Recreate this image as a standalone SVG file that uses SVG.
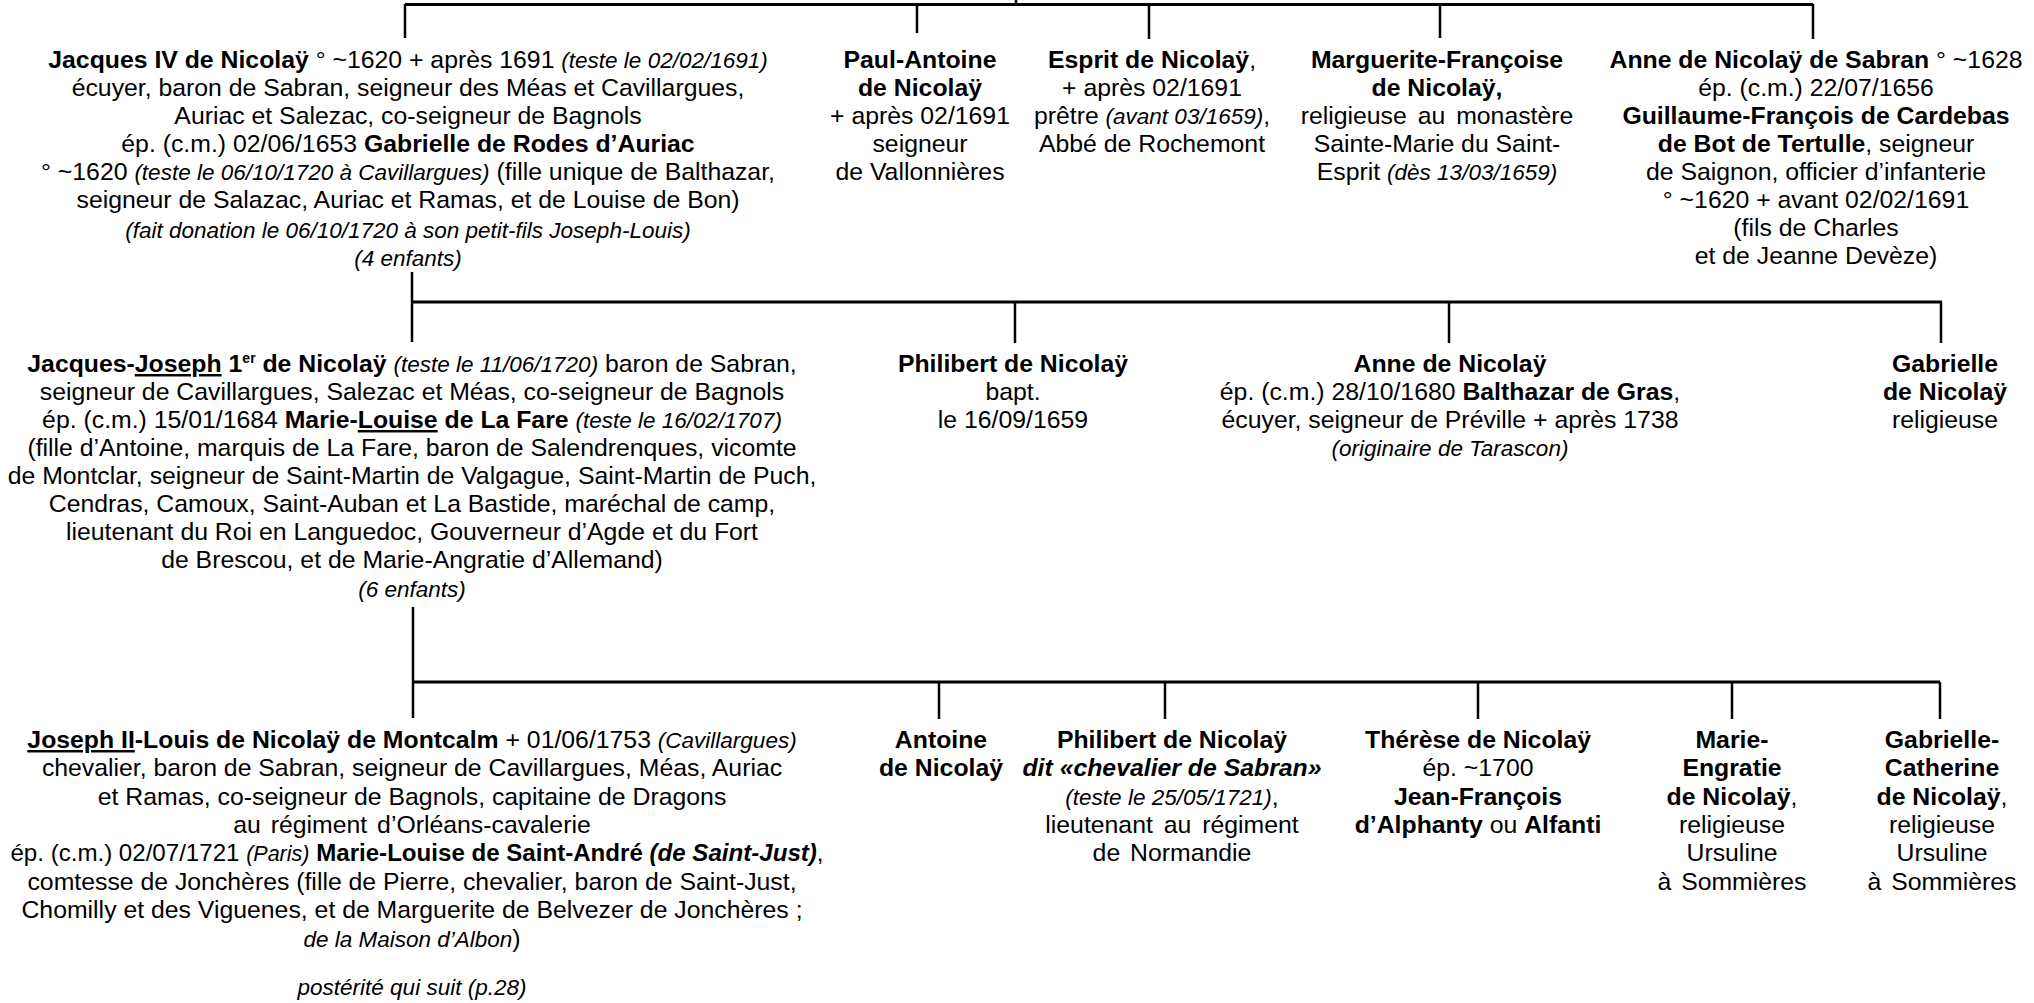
<svg xmlns="http://www.w3.org/2000/svg" width="2034" height="1003" viewBox="0 0 2034 1003">
<style>
.t{font-family:"Liberation Sans",Arial,sans-serif;font-size:24.8px;fill:#000;text-anchor:middle}
.b{font-weight:bold}
.i{font-style:italic;font-size:22.5px}
.bi{font-weight:bold;font-style:italic}
.u{text-decoration:underline}
.sup{font-size:14px;font-weight:bold}
.h{stroke:#000;stroke-width:3;fill:none}
.v{stroke:#000;stroke-width:2.5;fill:none}
</style>
<rect width="2034" height="1003" fill="#fff"/>
<g id="connectors">
<line class="v" x1="1016" y1="0" x2="1016" y2="5"/>
<line class="h" x1="405" y1="4.5" x2="1813" y2="4.5"/>
<line class="v" x1="405" y1="4" x2="405" y2="38"/>
<line class="v" x1="917" y1="4" x2="917" y2="33"/>
<line class="v" x1="1149" y1="4" x2="1149" y2="39"/>
<line class="v" x1="1440" y1="4" x2="1440" y2="38"/>
<line class="v" x1="1813" y1="4" x2="1813" y2="39"/>
<line class="v" x1="412" y1="272" x2="412" y2="342"/>
<line class="h" x1="412" y1="302" x2="1942" y2="302"/>
<line class="v" x1="1015" y1="302" x2="1015" y2="343"/>
<line class="v" x1="1449" y1="302" x2="1449" y2="343"/>
<line class="v" x1="1941" y1="302" x2="1941" y2="343"/>
<line class="v" x1="413" y1="607" x2="413" y2="718"/>
<line class="h" x1="413" y1="682" x2="1940" y2="682"/>
<line class="v" x1="939" y1="682" x2="939" y2="719"/>
<line class="v" x1="1165" y1="682" x2="1165" y2="719"/>
<line class="v" x1="1478" y1="682" x2="1478" y2="719"/>
<line class="v" x1="1732" y1="682" x2="1732" y2="719"/>
<line class="v" x1="1940" y1="682" x2="1940" y2="719"/>
</g>
<g id="jacques-iv" class="t">
<text x="408" y="68"><tspan class="b">Jacques IV de Nicolaÿ</tspan> ° ~1620 + après 1691 <tspan class="i">(teste le 02/02/1691)</tspan></text>
<text x="408" y="96">écuyer, baron de Sabran, seigneur des Méas et Cavillargues,</text>
<text x="408" y="124">Auriac et Salezac, co-seigneur de Bagnols</text>
<text x="408" y="152">ép. (c.m.) 02/06/1653 <tspan class="b">Gabrielle de Rodes d’Auriac</tspan></text>
<text x="408" y="180">° ~1620 <tspan class="i">(teste le 06/10/1720 à Cavillargues)</tspan> (fille unique de Balthazar,</text>
<text x="408" y="208">seigneur de Salazac, Auriac et Ramas, et de Louise de Bon)</text>
<text x="408" y="238" class="i">(fait donation le 06/10/1720 à son petit-fils Joseph-Louis)</text>
<text x="408" y="266" class="i">(4 enfants)</text>
</g>
<g id="paul-antoine" class="t">
<text x="920" y="68" class="b">Paul-Antoine</text>
<text x="920" y="96" class="b">de Nicolaÿ</text>
<text x="920" y="124">+ après 02/1691</text>
<text x="920" y="152">seigneur</text>
<text x="920" y="180">de Vallonnières</text>
</g>
<g id="esprit" class="t">
<text x="1152" y="68"><tspan class="b">Esprit de Nicolaÿ</tspan>,</text>
<text x="1152" y="96">+ après 02/1691</text>
<text x="1152" y="124">prêtre <tspan class="i">(avant 03/1659)</tspan>,</text>
<text x="1152" y="152">Abbé de Rochemont</text>
</g>
<g id="marguerite-francoise" class="t">
<text x="1437" y="68" class="b">Marguerite-Françoise</text>
<text x="1437" y="96" class="b">de Nicolaÿ,</text>
<text x="1437" y="124" word-spacing="4">religieuse au monastère</text>
<text x="1437" y="152">Sainte-Marie du Saint-</text>
<text x="1437" y="180">Esprit <tspan class="i">(dès 13/03/1659)</tspan></text>
</g>
<g id="anne-sabran" class="t">
<text x="1816" y="68"><tspan class="b">Anne de Nicolaÿ de Sabran</tspan> ° ~1628</text>
<text x="1816" y="96">ép. (c.m.) 22/07/1656</text>
<text x="1816" y="124" class="b">Guillaume-François de Cardebas</text>
<text x="1816" y="152"><tspan class="b">de Bot de Tertulle</tspan>, seigneur</text>
<text x="1816" y="180">de Saignon, officier d’infanterie</text>
<text x="1816" y="208">° ~1620 + avant 02/02/1691</text>
<text x="1816" y="236">(fils de Charles</text>
<text x="1816" y="264">et de Jeanne Devèze)</text>
</g>
<g id="jacques-joseph" class="t">
<text x="412" y="372"><tspan class="b">Jacques-</tspan><tspan class="b u">Joseph</tspan><tspan class="b"> 1</tspan><tspan class="sup" dy="-9">er</tspan><tspan class="b" dy="9"> de Nicolaÿ</tspan> <tspan class="i">(teste le 11/06/1720)</tspan> baron de Sabran,</text>
<text x="412" y="400">seigneur de Cavillargues, Salezac et Méas, co-seigneur de Bagnols</text>
<text x="412" y="428">ép. (c.m.) 15/01/1684 <tspan class="b">Marie-</tspan><tspan class="b u">Louise</tspan><tspan class="b"> de La Fare</tspan> <tspan class="i">(teste le 16/02/1707)</tspan></text>
<text x="412" y="456">(fille d’Antoine, marquis de La Fare, baron de Salendrenques, vicomte</text>
<text x="412" y="484">de Montclar, seigneur de Saint-Martin de Valgague, Saint-Martin de Puch,</text>
<text x="412" y="512">Cendras, Camoux, Saint-Auban et La Bastide, maréchal de camp,</text>
<text x="412" y="540">lieutenant du Roi en Languedoc, Gouverneur d’Agde et du Fort</text>
<text x="412" y="568">de Brescou, et de Marie-Angratie d’Allemand)</text>
<text x="412" y="597" class="i">(6 enfants)</text>
</g>
<g id="philibert-1659" class="t">
<text x="1013" y="372" class="b">Philibert de Nicolaÿ</text>
<text x="1013" y="400">bapt.</text>
<text x="1013" y="428">le 16/09/1659</text>
</g>
<g id="anne-gras" class="t">
<text x="1450" y="372" class="b">Anne de Nicolaÿ</text>
<text x="1450" y="400">ép. (c.m.) 28/10/1680 <tspan class="b">Balthazar de Gras</tspan>,</text>
<text x="1450" y="428">écuyer, seigneur de Préville + après 1738</text>
<text x="1450" y="456" class="i">(originaire de Tarascon)</text>
</g>
<g id="gabrielle" class="t">
<text x="1945" y="372" class="b">Gabrielle</text>
<text x="1945" y="400" class="b">de Nicolaÿ</text>
<text x="1945" y="428">religieuse</text>
</g>
<g id="joseph-louis" class="t">
<text x="412" y="748"><tspan class="b u">Joseph II</tspan><tspan class="b">-Louis de Nicolaÿ de Montcalm</tspan> + 01/06/1753 <tspan class="i">(Cavillargues)</tspan></text>
<text x="412" y="776">chevalier, baron de Sabran, seigneur de Cavillargues, Méas, Auriac</text>
<text x="412" y="805">et Ramas, co-seigneur de Bagnols, capitaine de Dragons</text>
<text x="412" y="833" word-spacing="3">au régiment d’Orléans-cavalerie</text>
<text x="417" y="861" style="font-size:24.1px">ép. (c.m.) 02/07/1721 <tspan class="i" style="font-size:21.5px">(Paris)</tspan> <tspan class="b">Marie-Louise de Saint-André </tspan><tspan class="bi">(de Saint-Just)</tspan>,</text>
<text x="412" y="890">comtesse de Jonchères (fille de Pierre, chevalier, baron de Saint-Just,</text>
<text x="412" y="918">Chomilly et des Viguenes, et de Marguerite de Belvezer de Jonchères ;</text>
<text x="412" y="947"><tspan class="i">de la Maison d’Albon</tspan>)</text>
<text x="412" y="995" class="i">postérité qui suit (p.28)</text>
</g>
<g id="antoine" class="t">
<text x="941" y="748" class="b">Antoine</text>
<text x="941" y="776" class="b">de Nicolaÿ</text>
</g>
<g id="philibert-sabran" class="t">
<text x="1172" y="748" class="b">Philibert de Nicolaÿ</text>
<text x="1172" y="776" class="bi">dit «chevalier de Sabran»</text>
<text x="1172" y="805"><tspan class="i">(teste le 25/05/1721)</tspan>,</text>
<text x="1172" y="833" word-spacing="4">lieutenant au régiment</text>
<text x="1172" y="861" word-spacing="3">de Normandie</text>
</g>
<g id="therese" class="t">
<text x="1478" y="748" class="b">Thérèse de Nicolaÿ</text>
<text x="1478" y="776">ép. ~1700</text>
<text x="1478" y="805" class="b">Jean-François</text>
<text x="1478" y="833"><tspan class="b">d’Alphanty</tspan> ou <tspan class="b">Alfanti</tspan></text>
</g>
<g id="marie-engratie" class="t">
<text x="1732" y="748" class="b">Marie-</text>
<text x="1732" y="776" class="b">Engratie</text>
<text x="1732" y="805"><tspan class="b">de Nicolaÿ</tspan>,</text>
<text x="1732" y="833">religieuse</text>
<text x="1732" y="861">Ursuline</text>
<text x="1732" y="890" word-spacing="3">à Sommières</text>
</g>
<g id="gabrielle-catherine" class="t">
<text x="1942" y="748" class="b">Gabrielle-</text>
<text x="1942" y="776" class="b">Catherine</text>
<text x="1942" y="805"><tspan class="b">de Nicolaÿ</tspan>,</text>
<text x="1942" y="833">religieuse</text>
<text x="1942" y="861">Ursuline</text>
<text x="1942" y="890" word-spacing="3">à Sommières</text>
</g>
</svg>
